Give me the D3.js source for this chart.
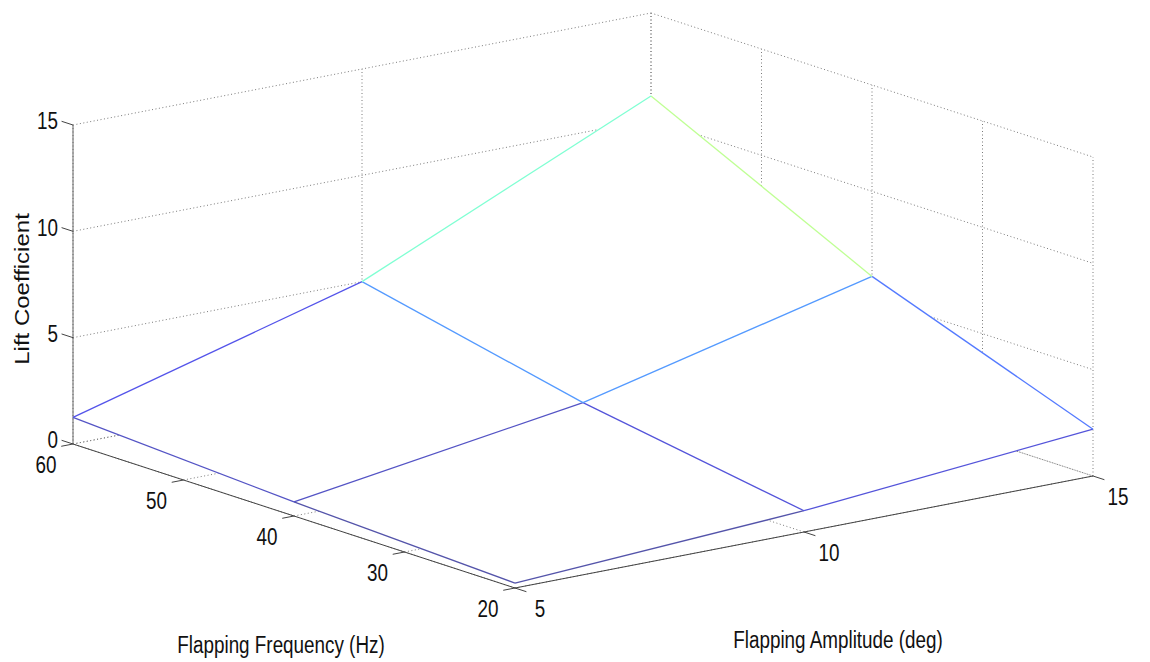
<!DOCTYPE html>
<html>
<head>
<meta charset="utf-8">
<script src="https://cdn.jsdelivr.net/npm/d3@7"></script>
<style>
  body { margin: 0; background: #fff; }
  text { font-family: "Liberation Sans", Arial, sans-serif; fill: #111; }
</style>
</head>
<body>
<svg id="chart" width="1150" height="662"></svg>
<script>
// Surface data: lift coefficient on a 3x3 grid
const amplitudes = [5, 10, 15];       // deg (x)
const frequencies = [20, 40, 60];     // Hz (y)
const liftCoefficient = [             // rows follow frequencies, columns follow amplitudes
  [0.23, 1.0, 2.2],
  [0.66, 2.7, 6.0],
  [1.25, 5.0, 11.1]
];

const ampTicks = [5, 10, 15];
const freqTicks = [20, 30, 40, 50, 60];
const liftTicks = [0, 5, 10, 15];

// Layout of the projected box (screen pixels)
const origin = [515, 588];          // amp 5, freq 20, lift 0
const ampVec = [578, -112];         // amp 5 -> 15
const freqVec = [-442, -144];       // freq 20 -> 60
const boxHeight = 319;              // lift 0 -> 15
const tickLen = 12;
const textSquash = 0.82;

const ampScale = d3.scaleLinear().domain([5, 15]).range([0, 1]);
const freqScale = d3.scaleLinear().domain([20, 60]).range([0, 1]);
const liftScale = d3.scaleLinear().domain([0, 15]).range([0, boxHeight]);

function project(a, f, z) {
  const u = ampScale(a), v = freqScale(f);
  return [
    origin[0] + u * ampVec[0] + v * freqVec[0],
    origin[1] + u * ampVec[1] + v * freqVec[1] - liftScale(z)
  ];
}

function unit(vec) {
  const l = Math.hypot(vec[0], vec[1]);
  return [vec[0] / l, vec[1] / l];
}
const ampDir = unit(ampVec);
const freqDir = unit(freqVec);

// jet colormap, lightened a bit like the reference
const jet = d3.scaleLinear()
  .domain([0, 0.125, 0.375, 0.625, 0.875, 1])
  .range(['#000080', '#0000ff', '#00ffff', '#ffff00', '#ff0000', '#800000']);
const colorNorm = d3.scaleLinear().domain(d3.extent(liftCoefficient.flat())).range([0, 1]);
const edgeColor = (v) => d3.interpolateRgb(jet(colorNorm(v)), '#ffffff')(0.33);

const svg = d3.select('#chart');
svg.append('rect').attr('width', 1150).attr('height', 662).attr('fill', '#fff');

const line = (p, q) => `M${p[0]},${p[1]}L${q[0]},${q[1]}`;

// Grid on back walls and floor
const grid = svg.append('g')
  .attr('fill', 'none')
  .attr('stroke', '#7a7a7a')
  .attr('stroke-width', 1)
  .attr('stroke-dasharray', '1,2.5');

const gridPaths = [];
liftTicks.forEach((z) => {
  gridPaths.push(line(project(5, 60, z), project(15, 60, z)));
  gridPaths.push(line(project(15, 60, z), project(15, 20, z)));
});
ampTicks.forEach((a) => {
  gridPaths.push(line(project(a, 60, 0), project(a, 60, 15)));
  gridPaths.push(line(project(a, 20, 0), project(a, 60, 0)));
});
freqTicks.forEach((f) => {
  gridPaths.push(line(project(15, f, 0), project(15, f, 15)));
  gridPaths.push(line(project(5, f, 0), project(15, f, 0)));
});
grid.selectAll('path').data(gridPaths).enter().append('path').attr('d', (d) => d);

// Axis lines and ticks
const axes = svg.append('g').attr('fill', 'none').attr('stroke-width', 1);
axes.append('path').attr('stroke', '#444').attr('d', line(project(5, 20, 0), project(5, 60, 0)));
axes.append('path').attr('stroke', '#444').attr('d', line(project(5, 20, 0), project(15, 20, 0)));
axes.append('path').attr('stroke', '#666').attr('d', line(project(5, 60, 0), project(5, 60, 15)));

axes.selectAll('.tick-z').data(liftTicks).enter().append('path')
  .attr('stroke', '#444')
  .attr('d', (z) => {
    const p = project(5, 60, z);
    return line(p, [p[0] + freqDir[0] * tickLen, p[1] + freqDir[1] * tickLen]);
  });
axes.selectAll('.tick-f').data(freqTicks).enter().append('path')
  .attr('stroke', '#444')
  .attr('d', (f) => {
    const p = project(5, f, 0);
    return line(p, [p[0] - ampDir[0] * tickLen, p[1] - ampDir[1] * tickLen]);
  });
axes.selectAll('.tick-a').data(ampTicks).enter().append('path')
  .attr('stroke', '#444')
  .attr('d', (a) => {
    const p = project(a, 20, 0);
    return line(p, [p[0] - freqDir[0] * tickLen, p[1] - freqDir[1] * tickLen]);
  });

// Mesh faces (white, hide what is behind) then edges
const faces = [];
for (let i = 0; i < frequencies.length - 1; i++) {
  for (let j = 0; j < amplitudes.length - 1; j++) {
    faces.push({ i, j });
  }
}
faces.sort((p, q) => (q.i + q.j) - (p.i + p.j));

const vertex = (i, j) => project(amplitudes[j], frequencies[i], liftCoefficient[i][j]);

const mesh = svg.append('g');
faces.forEach(({ i, j }) => {
  const pts = [vertex(i, j), vertex(i, j + 1), vertex(i + 1, j + 1), vertex(i + 1, j)];
  mesh.append('path')
    .attr('d', 'M' + pts.map((p) => p.join(',')).join('L') + 'Z')
    .attr('fill', '#fff')
    .attr('stroke', 'none');
});

const edges = [];
frequencies.forEach((f, i) => {
  amplitudes.forEach((a, j) => {
    if (j < amplitudes.length - 1) edges.push({ p: vertex(i, j), q: vertex(i, j + 1), v: liftCoefficient[i][j] });
    if (i < frequencies.length - 1) edges.push({ p: vertex(i, j), q: vertex(i + 1, j), v: liftCoefficient[i][j] });
  });
});
mesh.selectAll('.edge').data(edges).enter().append('path')
  .attr('class', 'edge')
  .attr('d', (d) => line(d.p, d.q))
  .attr('fill', 'none')
  .attr('stroke', (d) => edgeColor(d.v))
  .attr('stroke-width', 1.3);

// Text helper, squashed horizontally like the source image
function label(x, y, str, anchor, size, rotate) {
  svg.append('text')
    .attr('transform', `translate(${x},${y}) scale(${textSquash},1)` + (rotate ? ` rotate(${rotate})` : ''))
    .attr('text-anchor', anchor)
    .attr('dominant-baseline', 'central')
    .attr('font-size', size)
    .text(str);
}

liftTicks.forEach((z) => {
  const p = project(5, 60, z);
  label(p[0] - 15, p[1] - 4, z, 'end', 23);
});
freqTicks.forEach((f) => {
  const p = project(5, f, 0);
  label(p[0] - 27, p[1] + 21, f, 'middle', 23);
});
ampTicks.forEach((a) => {
  const p = project(a, 20, 0);
  label(p[0] + 25, p[1] + 21, a, 'middle', 23);
});

label(281, 645, 'Flapping Frequency (Hz)', 'middle', 23);
label(838, 640, 'Flapping Amplitude (deg)', 'middle', 23);
label(22, 289, 'Lift Coefficient', 'middle', 24, -90);
</script>
</body>
</html>
